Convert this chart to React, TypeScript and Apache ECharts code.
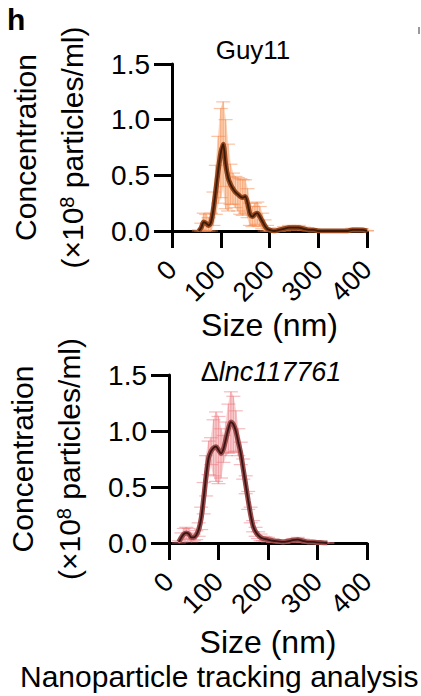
import React, { useEffect, useRef } from "react";
import * as echarts from "echarts";

// Particle size distributions (NTA), concentration in ×10^8 particles/ml
const guySizes = [55, 60, 65, 70, 75, 80, 85, 90, 95, 100, 105, 110, 115, 120, 125, 130, 135, 140, 145, 150, 155, 160, 165, 170, 175, 180, 185, 190, 195, 200, 210, 220, 230, 240, 250, 260, 270, 280, 290, 300, 310, 320, 330, 340, 350, 360, 370, 380, 390, 400];
const guyMean = [0.0, 0.03, 0.08, 0.07, 0.05, 0.08, 0.2, 0.37, 0.55, 0.7, 0.78, 0.6, 0.48, 0.42, 0.38, 0.35, 0.33, 0.31, 0.3, 0.31, 0.25, 0.15, 0.13, 0.15, 0.16, 0.13, 0.09, 0.05, 0.02, 0.01, 0.0, 0.01, 0.02, 0.03, 0.03, 0.03, 0.02, 0.01, 0.01, 0.0, 0.0, 0.0, 0.0, 0.0, 0.0, 0.0, 0.01, 0.01, 0.01, 0.0];
const guySd = [0.01, 0.04, 0.08, 0.08, 0.07, 0.08, 0.15, 0.22, 0.3, 0.4, 0.38, 0.4, 0.3, 0.18, 0.14, 0.14, 0.15, 0.16, 0.16, 0.15, 0.13, 0.1, 0.09, 0.1, 0.1, 0.09, 0.07, 0.05, 0.03, 0.015, 0.01, 0.015, 0.02, 0.02, 0.02, 0.02, 0.015, 0.01, 0.01, 0.005, 0.005, 0.005, 0.005, 0.005, 0.005, 0.01, 0.015, 0.015, 0.01, 0.005];

const lncSizes = [20, 25, 30, 35, 40, 45, 50, 55, 60, 65, 70, 75, 80, 85, 90, 95, 100, 105, 110, 115, 120, 125, 130, 135, 140, 145, 150, 155, 160, 165, 170, 175, 180, 185, 190, 195, 200, 210, 220, 230, 240, 250, 260, 270, 280, 290, 300, 310, 320];
const lncMean = [0.01, 0.05, 0.08, 0.09, 0.08, 0.05, 0.05, 0.07, 0.12, 0.22, 0.4, 0.6, 0.76, 0.82, 0.85, 0.86, 0.83, 0.8, 0.84, 0.93, 1.02, 1.08, 1.06, 1.0, 0.9, 0.8, 0.66, 0.52, 0.38, 0.25, 0.15, 0.1, 0.07, 0.05, 0.04, 0.035, 0.03, 0.02, 0.015, 0.01, 0.015, 0.025, 0.03, 0.02, 0.01, 0.01, 0.005, 0.003, 0.0];
const lncSd = [0.01, 0.04, 0.05, 0.05, 0.05, 0.04, 0.03, 0.04, 0.06, 0.1, 0.14, 0.18, 0.15, 0.12, 0.25, 0.31, 0.3, 0.22, 0.12, 0.15, 0.22, 0.27, 0.25, 0.18, 0.12, 0.1, 0.09, 0.08, 0.08, 0.07, 0.05, 0.04, 0.03, 0.03, 0.02, 0.02, 0.02, 0.015, 0.01, 0.01, 0.01, 0.015, 0.02, 0.015, 0.01, 0.01, 0.005, 0.003, 0.0];

const xTicks = [0, 100, 200, 300, 400];
const yTicks = [0, 0.5, 1.0, 1.5];

const panelTitles = ["Guy11", "Δ", "lnc117761"];
const xName = "Size (nm)";
const footer = "Nanoparticle tracking analysis";

const FONT = "'Liberation Sans', Arial, Helvetica, sans-serif";

type Palette = { fill: string; cap: string; outer: string; inner: string };
const guyColors: Palette = { fill: "#fcd2b6", cap: "rgba(245,135,75,0.5)", outer: "#96461c", inner: "#3a1a09" };
const lncColors: Palette = { fill: "#f9cfd0", cap: "rgba(236,120,128,0.5)", outer: "#9c4b4b", inner: "#381414" };

// one row per size: [size, mean, mean - sd (floored at 0), mean + sd, next size, next lower, next upper]
function rows(sizes: number[], mean: number[], sd: number[]) {
  const lo = mean.map((m, i) => Math.max(0, m - sd[i]));
  const hi = mean.map((m, i) => m + sd[i]);
  return sizes.map((s, i) => {
    const j = Math.min(i + 1, sizes.length - 1);
    return [s, mean[i], lo[i], hi[i], sizes[j], lo[j], hi[j]];
  });
}

function panelSeries(idx: number, sizes: number[], mean: number[], sd: number[], c: Palette) {
  const data = rows(sizes, mean, sd);
  const meanPts = data.map((d) => [d[0], d[1]]);
  return [
    {
      // SD band, drawn as one quad between neighbouring sizes
      type: "custom",
      xAxisIndex: idx,
      yAxisIndex: idx,
      data,
      silent: true,
      renderItem: (_params: any, api: any) => {
        const a1 = api.coord([api.value(0), api.value(3)]);
        const a2 = api.coord([api.value(4), api.value(6)]);
        const b2 = api.coord([api.value(4), api.value(5)]);
        const b1 = api.coord([api.value(0), api.value(2)]);
        return {
          type: "polygon",
          shape: { points: [a1, a2, b2, b1] },
          style: { fill: c.fill, stroke: c.fill, lineWidth: 0.6 },
        };
      },
    },
    {
      // error bars with caps
      type: "custom",
      xAxisIndex: idx,
      yAxisIndex: idx,
      data,
      silent: true,
      renderItem: (_params: any, api: any) => {
        const x = api.value(0);
        const hi = api.coord([x, api.value(3)]);
        const lo = api.coord([x, api.value(2)]);
        const hw = 7;
        const style = { stroke: c.cap, lineWidth: 1.2 };
        return {
          type: "group",
          children: [
            { type: "line", shape: { x1: hi[0], y1: hi[1], x2: lo[0], y2: lo[1] }, style },
            { type: "line", shape: { x1: hi[0] - hw, y1: hi[1], x2: hi[0] + hw, y2: hi[1] }, style },
            { type: "line", shape: { x1: lo[0] - hw, y1: lo[1], x2: lo[0] + hw, y2: lo[1] }, style },
          ],
        };
      },
    },
    {
      type: "line",
      xAxisIndex: idx,
      yAxisIndex: idx,
      data: meanPts,
      symbol: "none",
      smooth: 0.3,
      lineStyle: { color: c.outer, width: 5 },
      silent: true,
    },
    {
      type: "line",
      xAxisIndex: idx,
      yAxisIndex: idx,
      data: meanPts,
      symbol: "none",
      smooth: 0.3,
      lineStyle: { color: c.inner, width: 1.8 },
      silent: true,
    },
  ];
}

function xAxisFor(idx: number, gap: number) {
  return {
    type: "value",
    gridIndex: idx,
    min: xTicks[0],
    max: xTicks[xTicks.length - 1],
    interval: xTicks[1] - xTicks[0],
    name: xName,
    nameLocation: "middle",
    nameGap: gap,
    nameTextStyle: { fontFamily: FONT, fontSize: 32, color: "#000" },
    axisLine: { show: true, onZero: false, lineStyle: { color: "#000", width: 3 } },
    axisTick: { show: true, length: 17, lineStyle: { color: "#000", width: 3 } },
    axisLabel: { rotate: 45, margin: 34, fontFamily: FONT, fontSize: 27, color: "#000" },
    splitLine: { show: false },
  };
}

function yAxisFor(idx: number) {
  return {
    type: "value",
    gridIndex: idx,
    min: yTicks[0],
    max: yTicks[yTicks.length - 1],
    interval: yTicks[1] - yTicks[0],
    name: "{a|Concentration}\n{b|(×10}{s|8}{b| particles/ml)}",
    nameLocation: "middle",
    nameGap: 76,
    nameTextStyle: {
      fontFamily: FONT,
      color: "#000",
      rich: {
        a: { fontFamily: FONT, fontSize: 30, lineHeight: 47, color: "#000" },
        b: { fontFamily: FONT, fontSize: 30, lineHeight: 47, color: "#000" },
        s: { fontFamily: FONT, fontSize: 20, lineHeight: 20, verticalAlign: "top", padding: [8, 0, 0, 0], color: "#000" },
      },
    },
    axisLine: { show: true, onZero: false, lineStyle: { color: "#000", width: 3 } },
    axisTick: { show: true, length: 18, lineStyle: { color: "#000", width: 3 } },
    axisLabel: {
      margin: 22,
      fontFamily: FONT,
      fontSize: 28,
      color: "#000",
      formatter: (v: number) => v.toFixed(1),
    },
    splitLine: { show: false },
  };
}

export default function App() {
  const ref = useRef<HTMLDivElement>(null);

  useEffect(() => {
    if (!ref.current) return;
    const chart = echarts.init(ref.current, null, { renderer: "svg" });
    chart.setOption({
      animation: false,
      backgroundColor: "#fff",
      grid: [
        { left: 172, top: 64, width: 195, height: 167 },
        { left: 169, top: 375, width: 198, height: 168 },
      ],
      xAxis: [xAxisFor(0, 78), xAxisFor(1, 83)],
      yAxis: [yAxisFor(0), yAxisFor(1)],
      series: [
        ...panelSeries(0, guySizes, guyMean, guySd, guyColors),
        ...panelSeries(1, lncSizes, lncMean, lncSd, lncColors),
      ],
      graphic: [
        {
          type: "text",
          left: 7,
          top: 4,
          style: { text: "h", fontFamily: FONT, fontSize: 30, fontWeight: "bold", fill: "#000" },
        },
        {
          type: "text",
          x: 253,
          y: 37,
          style: { text: panelTitles[0], fontFamily: FONT, fontSize: 26, fill: "#000", align: "center" },
        },
        {
          type: "text",
          x: 271,
          y: 358,
          style: {
            text: "{d|" + panelTitles[1] + "}{i|" + panelTitles[2] + "}",
            align: "center",
            rich: {
              d: { fontFamily: FONT, fontSize: 27, fill: "#000" },
              i: { fontFamily: FONT, fontSize: 27, fontStyle: "italic", fill: "#000" },
            },
          },
        },
        {
          type: "text",
          left: 20,
          top: 661,
          style: { text: footer, fontFamily: FONT, fontSize: 30, fill: "#000" },
        },
        {
          type: "rect",
          shape: { x: 418, y: 27, width: 2, height: 7 },
          style: { fill: "#9a9a9a" },
        },
      ],
    });
    return () => chart.dispose();
  }, []);

  return (
    <div
      ref={ref}
      style={{ position: "fixed", left: 0, top: 0, width: 421, height: 696, background: "#fff" }}
    />
  );
}
